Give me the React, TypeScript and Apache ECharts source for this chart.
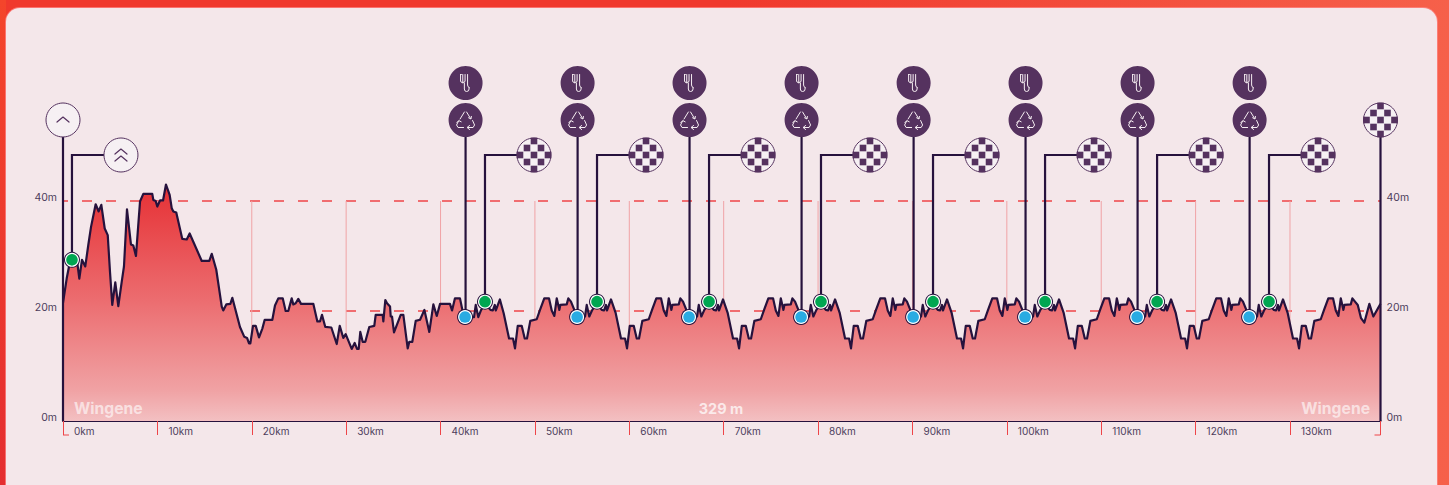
import React, { useEffect, useRef } from "react";
import * as echarts from "echarts";

const introKm = [0,0.39,0.74,1.27,1.52,1.73,2.01,2.36,2.68,2.97,3.46,3.78,4.06,4.42,4.74,4.98,5.22,5.54,5.86,6.22,6.46,6.78,7.2,7.45,7.73,8.16,8.51,9.46,9.57,9.82,9.99,10.28,10.6,10.91,11.3,11.52,11.69,12.0,12.64,13.11,13.42,14.7,15.5,15.76,16.24,16.82,16.98,17.3,17.73,17.94,18.75,19.21,19.5,19.71,19.85,20.13,20.42,20.77,21.12,21.37,22.18,22.46,22.81,23.28,23.59,23.87,24.23,24.4,24.65,24.93,25.22,26.52,26.95,27.23,27.44,27.79,28.43,29.0,29.32,29.7,29.95,30.59,30.9,31.15,31.33,31.5,31.75,32.03,32.45,32.98,33.13,33.87,33.94,34.15,34.33,34.65,34.72,34.86,35.07,35.78,36.06,36.52,36.69,37.01,37.37,37.83,38.29,38.81,39.24,39.6,39.95,41.0,41.22,41.53,42.06,42.35,42.6,43.55,43.73,44.0,44.3,44.76,45.29,45.54,45.75,45.86,46.29,46.69,47.26,47.68];
const introM = [21.5,25.9,29.0,29.9,28.7,25.9,29.3,28.1,32.0,35.3,39.4,38.1,39.3,35.0,33.8,27.1,21.1,25.2,20.9,25.3,28.1,38.5,32.1,31.9,30.0,39.9,41.3,41.3,40.2,40.0,39.0,40.1,40.1,43.0,41.1,38.7,38.1,37.9,33.1,33.0,34.1,29.1,29.1,30.4,27.5,20.8,20.1,21.2,21.3,22.4,17.1,15.3,15.1,14.1,14.1,17.3,17.3,15.2,16.8,18.4,18.4,21.0,22.3,22.3,20.0,20.0,22.3,21.2,21.4,22.2,21.3,21.3,18.1,18.1,19.3,17.1,17.0,14.0,17.3,15.1,15.8,13.1,14.2,13.1,13.1,16.2,14.4,14.4,17.1,17.3,19.3,19.3,18.1,22.0,21.4,20.8,19.0,19.0,16.1,19.3,19.3,13.2,14.4,14.4,18.2,18.4,20.2,16.2,21.2,19.1,21.3,21.3,20.1,22.3,22.3,19.9,18.9,18.9,21.1,18.9,20.2,21.3,20.2,20.1,21.1,20.1,22.1,19.6,15.0,15.0];

const lapStartKm = [47.89,59.76,71.63,83.49,95.36,107.23,119.09];
const lapOffsetKm = [0,0.29,0.71,1.03,1.27,1.62,2.3,2.65,3.1,3.6,3.89,4.17,4.42,4.7,4.8,5.48,5.65,5.93,6.36,6.64,7.42,7.6,7.87,8.19,8.66,9.19,9.44,9.64,9.75,10.17,10.67,11.23,11.66];
const lapM = [13.2,17.3,17.3,15.0,15.0,18.2,18.5,20.2,22.3,22.3,20.1,19.1,22.3,20.2,21.1,21.2,22.3,21.7,19.9,19.0,19.0,21.1,19.0,20.2,21.3,20.2,20.1,21.1,20.1,22.1,19.6,15.0,15.0];

const tailKm = [130.96,131.25,131.67,131.99,132.23,132.58,133.26,133.61,134.06,134.56,134.85,135.13,135.38,135.66,135.76,136.44,136.61,136.89,137.18,137.53,137.88,138.41,138.83,139.59];
const tailM = [13.2,17.3,17.3,15.0,15.0,18.2,18.5,20.2,22.3,22.3,20.1,19.1,22.3,20.2,21.1,21.2,22.3,21.7,21.1,18.7,17.9,21.3,19.0,21.3];

const feedKm = [42.6,54.47,66.33,78.2,90.07,101.93,113.8,125.67];
const feedM = [18.9,18.9,18.9,18.9,18.9,18.9,18.9,18.9];
const lapLineKm = [44.71,56.58,68.45,80.31,92.18,104.05,115.92,127.78];
const lapLineM = [21.7,21.7,21.7,21.7,21.7,21.7,21.7,21.7];
const climbKm = [0.95];
const climbM = [29.3];
const kmTicks = [0,10,20,30,40,50,60,70,80,90,100,110,120,130];
const guideKm = [10,20,30,40,50,60,70,80,90,100,110,120,130];
const elevTicks = [0,20,40];
const dashedElev = [20,40];
const courseEndKm = 139.59;

const profile: number[][] = [];
introKm.forEach((k, i) => profile.push([k, introM[i]]));
lapStartKm.forEach((s) => lapOffsetKm.forEach((o, i) => profile.push([+(s + o).toFixed(2), lapM[i]])));
tailKm.forEach((k, i) => profile.push([k, tailM[i]]));

const INK = "#26123d";
const PURPLE = "#55325f";
const PALE = "#f6f0f3";
const RED = "#ee4548";
const FONT = "Inter, 'Noto Sans', sans-serif";

const ICON_TOP_Y = 83;
const ICON_MID_Y = 120;
const ELBOW_Y = 155;
const R = 17;

const circle = (x: number, y: number, r: number, fill: string, stroke?: string, lineWidth = 1) => ({
  type: "circle",
  shape: { cx: x, cy: y, r },
  style: { fill, stroke: stroke || "none", lineWidth },
});
const seg = (pts: number[][], stroke = INK, lineWidth = 2.2) => ({
  type: "polyline",
  shape: { points: pts },
  style: { fill: "none", stroke, lineWidth, lineJoin: "miter" },
});
const glyph = (d: string, x: number, y: number, stroke: string, lineWidth = 1) => ({
  type: "path",
  x: x - 20,
  y: y - 20,
  shape: { pathData: d, x: 0, y: 0, width: 40, height: 40, layout: "center" },
  style: { fill: "none", stroke, lineWidth, lineCap: "round", lineJoin: "round" },
});
// paths are drawn in a 40x40 box, so that their scale stays 1
const box = "M0,0 M40,40 ";
const forkKnife = box + "M15,11.5 L15,18 Q15,19.5 17,19.5 Q19.5,19.5 19.5,18 L19.5,11.5 M15,11.5 L15.8,11.5 M17.2,11.5 L17.2,20 M18.8,20 L18.8,26 Q18.8,28.5 21,28.5 Q23.5,28.5 23.5,26 L23.5,24.5 M22,11.5 L22,22 Q22,24 23.5,24.5";
const recycle = box + "M14.5,19 L18.8,12 M21,12 L25,18.5 M23,17.8 L25.4,19 L25.8,16.4 M27,20.5 L29,25 L27.5,27.5 L22,27.5 M24,25.5 L21.5,27.5 L24,29.5 M18,27.5 L12.5,27.5 L11,25 L13,21 M11.3,22.6 L13.2,20.6 L15.6,21.8";
const chevron = box + "M14,22 L20,17 L26,22";
const doubleChevron = box + "M14,19 L20,14 L26,19 M14,26 L20,21 L26,26";

function checker(x: number, y: number) {
  const cells = [[0,-14],[-7,-7],[7,-7],[-14,0],[0,0],[14,0],[-7,7],[7,7],[0,14]];
  return {
    type: "group",
    children: [
      circle(x, y, R, PALE, PURPLE, 1),
      ...cells.map(([dx, dy]) => ({
        type: "rect",
        shape: { x: x + dx - 3.3, y: y + dy - 3.3, width: 6.6, height: 6.6 },
        style: { fill: PURPLE },
      })),
    ],
  };
}
function pinDot(x: number, y: number, fill: string) {
  return {
    type: "group",
    children: [circle(x, y, 8, INK), circle(x, y, 7, "#ffffff"), circle(x, y, 5.8, fill)],
  };
}

export default function App() {
  const ref = useRef<HTMLDivElement>(null);
  useEffect(() => {
    if (!ref.current) return;
    const chart = echarts.init(ref.current, undefined, { renderer: "svg" });
    const labelStyle = { color: "#4d3d5c", fontSize: 10.5, fontFamily: FONT };
    const yBase = {
      type: "value",
      min: 0,
      max: 72,
      axisLine: { show: false },
      axisTick: { show: false },
      splitLine: { show: false },
    };
    const yLabel = {
      ...labelStyle,
      customValues: elevTicks,
      formatter: (v: number) => `${v}m`,
      verticalAlign: "bottom",
      lineHeight: 7,
    };
    chart.setOption({
      animation: false,
      backgroundColor: "transparent",
      grid: { left: 63, right: 68.5, top: 25, bottom: 64, containLabel: false },
      xAxis: {
        type: "value",
        min: 0,
        max: courseEndKm,
        axisLine: { show: true, onZero: false, lineStyle: { color: INK, width: 2 } },
        axisTick: { show: true, length: 14, customValues: [...kmTicks, courseEndKm], lineStyle: { color: RED, width: 1 } },
        axisLabel: { ...labelStyle, fontSize: 10, customValues: kmTicks, formatter: (v: number) => `${v}km`, align: "left", padding: [0, 0, 0, 11], margin: 5, hideOverlap: false },
        splitLine: { show: false },
      },
      yAxis: [
        { ...yBase, position: "left", axisLabel: { ...yLabel, margin: 6 } },
        { ...yBase, position: "right", axisLabel: { ...yLabel, margin: 6 } },
      ],
      graphic: [
        { type: "text", x: 74, y: 400, z: 50, style: { text: "Wingene", fill: "rgba(255,255,255,0.62)", font: `700 15.7px ${FONT}` } },
        { type: "text", x: 721, y: 401, z: 50, style: { text: "329 m", fill: "rgba(255,255,255,0.72)", textAlign: "center", font: `700 14.5px ${FONT}` } },
        { type: "text", x: 1370, y: 400, z: 50, style: { text: "Wingene", fill: "rgba(255,255,255,0.62)", textAlign: "right", font: `700 15.7px ${FONT}` } },
      ],
      series: [
        {
          type: "custom",
          name: "dashes",
          z: 1,
          silent: true,
          data: dashedElev.map((m) => [0, m]),
          renderItem: (_: any, api: any) => {
            const a = api.coord([0, api.value(1)]);
            const b = api.coord([courseEndKm, api.value(1)]);
            return { type: "line", shape: { x1: a[0], y1: a[1], x2: b[0], y2: b[1] }, style: { stroke: RED, lineWidth: 1.4, lineDash: [10, 14], lineDashOffset: 5 } };
          },
        },
        {
          type: "custom",
          name: "guides",
          z: 1,
          silent: true,
          data: guideKm.map((k) => [k, 40]),
          renderItem: (_: any, api: any) => {
            const top = api.coord([api.value(0), api.value(1)]);
            const base = api.coord([api.value(0), 0]);
            return { type: "line", shape: { x1: top[0], y1: top[1], x2: base[0], y2: base[1] }, style: { stroke: "#f0a3a6", lineWidth: 1 } };
          },
        },
        {
          type: "custom",
          name: "corners",
          z: 1,
          silent: true,
          data: [[0, -1], [courseEndKm, 1]],
          renderItem: (_: any, api: any) => {
            const p = api.coord([api.value(0), 0]);
            return { type: "line", shape: { x1: p[0], y1: p[1] + 14, x2: p[0] - api.value(1) * 6, y2: p[1] + 14 }, style: { stroke: RED, lineWidth: 1 } };
          },
        },
        {
          type: "line",
          name: "profile",
          z: 2,
          data: profile,
          showSymbol: false,
          smooth: false,
          clip: false,
          lineStyle: { color: INK, width: 2.2, join: "round" },
          areaStyle: {
            opacity: 1,
            color: new echarts.graphic.LinearGradient(0, 0, 0, 1, [
              { offset: 0, color: "#e63034" },
              { offset: 0.5, color: "#ec6e71" },
              { offset: 0.87, color: "#f0a2a4" },
              { offset: 1, color: "#f3c0c2" },
            ]),
          },
          silent: true,
        },
        {
          type: "custom",
          name: "ends",
          z: 3,
          silent: true,
          data: [[0, 0, 0], [courseEndKm, 0, 1]],
          renderItem: (_: any, api: any) => {
            const p = api.coord([api.value(0), api.value(1)]);
            const isEnd = api.value(2) === 1;
            return {
              type: "group",
              children: [
                seg([[p[0], p[1]], [p[0], ICON_MID_Y]]),
                isEnd ? checker(p[0], ICON_MID_Y) : circle(p[0], ICON_MID_Y, R, PALE, PURPLE, 1),
                ...(isEnd ? [] : [glyph(chevron, p[0], ICON_MID_Y, PURPLE, 1.2)]),
              ],
            };
          },
        },
        {
          type: "custom",
          name: "climb",
          z: 4,
          silent: true,
          data: climbKm.map((k, i) => [k, climbM[i]]),
          renderItem: (_: any, api: any) => {
            const p = api.coord([api.value(0), api.value(1)]);
            const cx = p[0] + 49;
            return {
              type: "group",
              children: [
                seg([[p[0], p[1]], [p[0], ELBOW_Y], [cx - R, ELBOW_Y]]),
                circle(cx, ELBOW_Y, R, PALE, PURPLE, 1),
                glyph(doubleChevron, cx, ELBOW_Y, PURPLE, 1.2),
                pinDot(p[0], p[1], "#00a651"),
              ],
            };
          },
        },
        {
          type: "custom",
          name: "feed",
          z: 5,
          silent: true,
          data: feedKm.map((k, i) => [k, feedM[i]]),
          renderItem: (_: any, api: any) => {
            const p = api.coord([api.value(0), api.value(1)]);
            const x = p[0] + 0.5;
            return {
              type: "group",
              children: [
                seg([[x, p[1]], [x, ICON_MID_Y]]),
                circle(x, ICON_TOP_Y, R, PURPLE),
                circle(x, ICON_MID_Y, R, PURPLE),
                glyph(forkKnife, x, ICON_TOP_Y, "#f6eef2"),
                glyph(recycle, x, ICON_MID_Y, "#f6eef2"),
                pinDot(p[0], p[1], "#29abe2"),
              ],
            };
          },
        },
        {
          type: "custom",
          name: "lapline",
          z: 5,
          silent: true,
          data: lapLineKm.map((k, i) => [k, lapLineM[i]]),
          renderItem: (_: any, api: any) => {
            const p = api.coord([api.value(0), api.value(1)]);
            const cx = p[0] + 49;
            return {
              type: "group",
              children: [
                seg([[p[0], p[1]], [p[0], ELBOW_Y], [cx - R, ELBOW_Y]]),
                checker(cx, ELBOW_Y),
                pinDot(p[0], p[1], "#00a651"),
              ],
            };
          },
        },
      ],
    });
    return () => chart.dispose();
  }, []);
  return (
    <div
      style={{
        position: "fixed",
        left: 0,
        top: 0,
        width: 1449,
        height: 485,
        overflow: "hidden",
        background: "linear-gradient(180deg,#f4452b,#e42e30) left top/6px 100% no-repeat,linear-gradient(90deg,#f0392d,#f0392d 50%,#f6604a)",
      }}
    >
      <div
        style={{
          position: "absolute",
          left: 6,
          top: 8,
          width: 1431,
          height: 500,
          borderRadius: 14,
          background: "#f4e7ea",
          boxShadow: "0 0 0 1px rgba(255,140,140,0.7)",
        }}
      />
      <div ref={ref} style={{ position: "absolute", left: 0, top: 0, width: 1449, height: 485 }} />
    </div>
  );
}
